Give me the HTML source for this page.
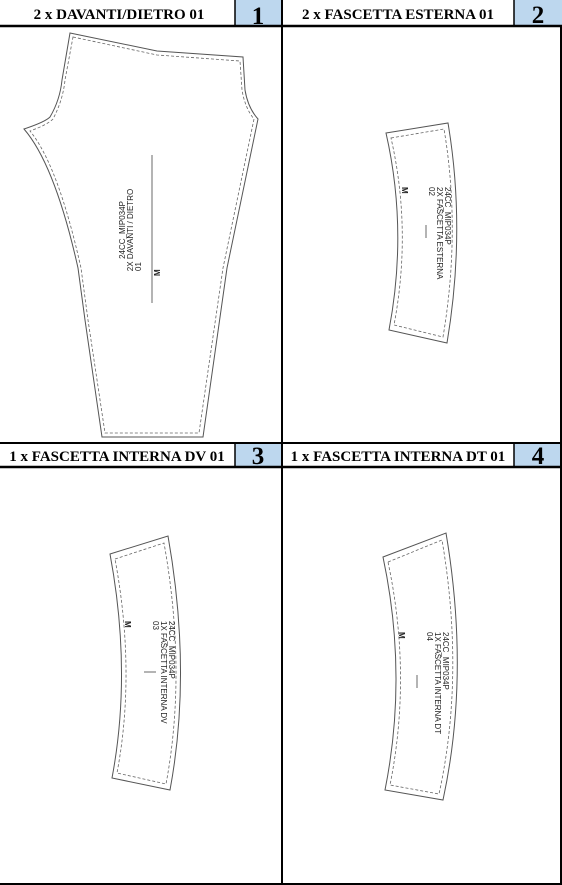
<!DOCTYPE html>
<html><head><meta charset="utf-8"><style>
html,body{margin:0;padding:0;background:#fff;}
svg{display:block;}
.h{font-family:"Liberation Serif",serif;font-weight:bold;font-size:15px;}
.n{font-family:"Liberation Serif",serif;font-weight:bold;font-size:25px;}
.l{font-family:"Liberation Sans",sans-serif;font-size:8px;fill:#222;}
.cut{fill:#fff;stroke:#555;stroke-width:1;}
.sew{fill:none;stroke:#666;stroke-width:0.8;stroke-dasharray:3,2;}
</style></head><body>
<svg width="562" height="885" viewBox="0 0 562 885">
<g>
<rect x="235" y="0" width="47" height="25" fill="#bdd7ee"/>
<rect x="514" y="0" width="48" height="25" fill="#bdd7ee"/>
<text class="h" x="119" y="19" text-anchor="middle">2 x DAVANTI/DIETRO 01</text>
<text class="n" x="258" y="24" text-anchor="middle">1</text>
<text class="h" x="398" y="19" text-anchor="middle">2 x FASCETTA ESTERNA 01</text>
<text class="n" x="538" y="23" text-anchor="middle">2</text>
<line x1="235" y1="0" x2="235" y2="26" stroke="#000" stroke-width="1.5"/>
<line x1="514" y1="0" x2="514" y2="26" stroke="#000" stroke-width="1.5"/>
<line x1="0" y1="26" x2="562" y2="26" stroke="#000" stroke-width="2.5"/>
</g>
<g>
<line x1="0" y1="443" x2="562" y2="443" stroke="#000" stroke-width="2"/>
<rect x="235" y="444" width="47" height="22" fill="#bdd7ee"/>
<rect x="514" y="444" width="48" height="22" fill="#bdd7ee"/>
<text class="h" x="117" y="461" text-anchor="middle">1 x FASCETTA INTERNA DV 01</text>
<text class="n" x="258" y="464" text-anchor="middle">3</text>
<text class="h" x="398" y="461" text-anchor="middle">1 x FASCETTA INTERNA DT 01</text>
<text class="n" x="538" y="464" text-anchor="middle">4</text>
<line x1="235" y1="443" x2="235" y2="466" stroke="#000" stroke-width="1.5"/>
<line x1="514" y1="443" x2="514" y2="466" stroke="#000" stroke-width="1.5"/>
<line x1="0" y1="467" x2="562" y2="467" stroke="#000" stroke-width="2.5"/>
</g>
<line x1="282" y1="0" x2="282" y2="885" stroke="#000" stroke-width="2"/>
<line x1="561" y1="26" x2="561" y2="884" stroke="#000" stroke-width="2"/>
<line x1="0" y1="884" x2="562" y2="884" stroke="#000" stroke-width="2"/>

<g>
<path class="cut" d="M70,33 L157,51 L243,57 L245,90 Q248,108 258,119 L227,268 L203,437 L102,437 L85,320 L78,268 Q55,165 24,129 Q45,122 50,117 Q60,100 62,80 Z"/>
<path class="sew" d="M73,37 L157,55 L240,61 L242,90 Q245,108 254,119 L223,268 L199,433 L105,433 L88,320 L81,268 Q58,165 30,131 Q47,125 53,119 Q63,100 65,80 Z"/>
<line x1="152" y1="155" x2="152" y2="303" stroke="#444" stroke-width="0.8"/>
<g transform="translate(139,230) rotate(-90)">
<text class="l" x="0" y="-14" text-anchor="middle">24CC_MIP034P</text>
<text class="l" x="0" y="-6" text-anchor="middle">2X DAVANTI / DIETRO</text>
<text class="l" x="-41" y="2">01</text>
<text class="l" x="-46" y="21" font-weight="bold">M</text>
</g>
</g>

<g>
<path class="cut" d="M386,133 L448,123 Q466,230 447,343 L389,330 Q408,230 386,133 Z"/>
<path class="sew" d="M391,138 L444,129 Q461,230 443,337 L394,325 Q412,230 391,138 Z"/>
<line x1="426" y1="225" x2="426" y2="238" stroke="#444" stroke-width="0.8"/>
<g transform="translate(438,187) rotate(90)">
<text class="l" x="0" y="-7">24CC_MIP034P</text>
<text class="l" x="0" y="1">2X FASCETTA ESTERNA</text>
<text class="l" x="0" y="9">02</text>
<text class="l" x="0" y="36" font-weight="bold">M</text>
</g>
</g>

<g>
<path class="cut" d="M110,554 L168,536 Q192,672 170,790 L112,778 Q132,672 110,554 Z"/>
<path class="sew" d="M115,559 L164,543 Q187,672 166,784 L117,773 Q136,672 115,559 Z"/>
<line x1="144" y1="672" x2="156" y2="672" stroke="#444" stroke-width="0.8"/>
<g transform="translate(162,621) rotate(90)">
<text class="l" x="0" y="-7">24CC_MIP034P</text>
<text class="l" x="0" y="1">1X FASCETTA INTERNA DV</text>
<text class="l" x="0" y="9">03</text>
<text class="l" x="0" y="37" font-weight="bold">M</text>
</g>
</g>

<g>
<path class="cut" d="M383,557 L446,533 Q470,675 443,800 L385,790 Q408,675 383,557 Z"/>
<path class="sew" d="M388,562 L442,540 Q465,675 439,794 L390,785 Q412,675 388,562 Z"/>
<line x1="417" y1="675" x2="417" y2="688" stroke="#444" stroke-width="0.8"/>
<g transform="translate(436,632) rotate(90)">
<text class="l" x="0" y="-7">24CC_MIP034P</text>
<text class="l" x="0" y="1">1X FASCETTA INTERNA DT</text>
<text class="l" x="0" y="9">04</text>
<text class="l" x="0" y="37" font-weight="bold">M</text>
</g>
</g>
</svg>
</body></html>
